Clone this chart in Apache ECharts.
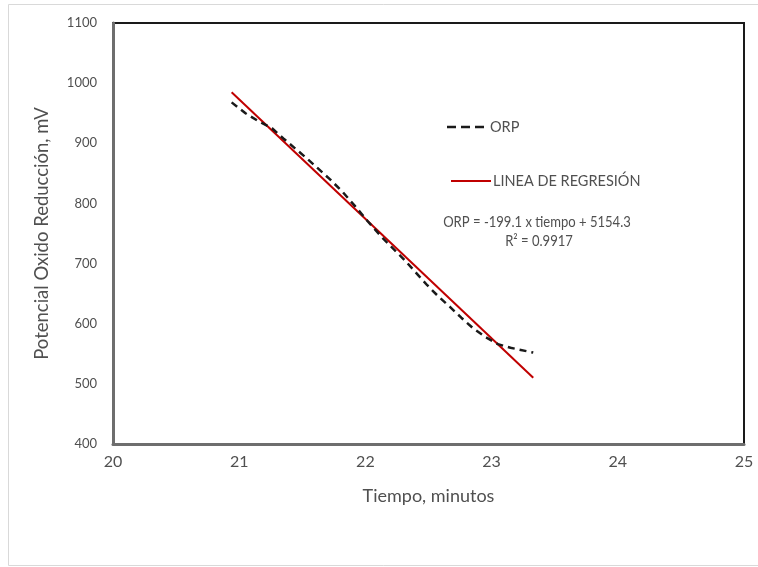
<!DOCTYPE html>
<html>
<head>
<meta charset="utf-8">
<script src="https://cdn.jsdelivr.net/npm/echarts@6/dist/echarts.min.js"></script>
<style>html,body{margin:0;padding:0;background:#fff;}#c{width:758px;height:567px;}</style>
</head>
<body>
<div id="c"></div>
<script>
// ORP readings (time in minutes, mV)
const orpTime = [20.94, 21.05, 21.15, 21.26, 21.35, 21.44, 21.53, 21.62, 21.72, 21.82, 21.92, 22.02, 22.13, 22.22, 22.31, 22.40, 22.49, 22.58, 22.67, 22.76, 22.85, 22.95, 23.05, 23.15, 23.33];
const orpValue = [968, 950, 937, 925, 908, 892, 876, 859, 840, 819, 795, 770, 744, 725, 706, 685, 664, 645, 628, 610, 593, 578, 566, 560, 552];
// Regression line endpoints
const regTime = [20.94, 23.33];
const regValue = [985, 510];
const xTicks = [20, 21, 22, 23, 24, 25];
const yTicks = [400, 500, 600, 700, 800, 900, 1000, 1100];
const seriesNames = ['ORP', 'LINEA DE REGRESIÓN'];
const equationText = ['ORP = -199.1 x tiempo + 5154.3', 'R² = 0.9917'];

const FONT = 'Lato, "Noto Sans", sans-serif';
const TXT = '#505050';
const SQ = 0.9; // horizontal squeeze for the equation text

const chart = echarts.init(document.getElementById('c'));
chart.setOption({
  animation: false,
  backgroundColor: '#fff',
  grid: { left: 113, right: 14, top: 23, bottom: 123, show: true, borderColor: '#1a1a1a', borderWidth: 2, backgroundColor: 'transparent' },
  xAxis: {
    type: 'value', min: xTicks[0], max: xTicks[xTicks.length - 1], interval: 1,
    name: 'Tiempo, minutos', nameLocation: 'middle', nameGap: 43,
    nameTextStyle: { fontFamily: FONT, fontSize: 18, color: TXT },
    axisLine: { show: true, lineStyle: { color: '#6e6e6e', width: 3 } },
    axisTick: { show: false }, splitLine: { show: false },
    axisLabel: { fontFamily: FONT, fontSize: 16, color: TXT, margin: 10, formatter: v => String(v) }
  },
  yAxis: {
    type: 'value', min: yTicks[0], max: yTicks[yTicks.length - 1], interval: 100,
    name: 'Potencial Oxido Reducción, mV', nameLocation: 'middle', nameGap: 61, nameRotate: 90,
    nameTextStyle: { fontFamily: FONT, fontSize: 18.5, color: TXT },
    axisLine: { show: true, lineStyle: { color: '#6e6e6e', width: 3 } },
    axisTick: { show: false }, splitLine: { show: false },
    axisLabel: { fontFamily: FONT, fontSize: 13, color: TXT, margin: 16, formatter: v => String(v) }
  },
  legend: { show: false, data: seriesNames },
  graphic: [
    { type: 'rect', silent: true, z: -10, shape: { x: 8.5, y: 4.5, width: 770, height: 561 }, style: { fill: 'none', stroke: '#d9d9d9', lineWidth: 1 } },
    // legend (drawn by hand to reproduce the line-only keys)
    { type: 'line', silent: true, shape: { x1: 447, y1: 127, x2: 488, y2: 127 }, style: { stroke: '#1a1a1a', lineWidth: 2.5, lineDash: [9, 5] } },
    { type: 'text', silent: true, x: 490, y: 127, style: { text: seriesNames[0], fontFamily: FONT, fontSize: 14.5, fill: TXT, align: 'left', verticalAlign: 'middle' } },
    { type: 'line', silent: true, shape: { x1: 451, y1: 181, x2: 491, y2: 181 }, style: { stroke: '#c00000', lineWidth: 2 } },
    { type: 'text', silent: true, x: 493, y: 181, style: { text: seriesNames[1], fontFamily: FONT, fontSize: 14.5, fill: TXT, align: 'left', verticalAlign: 'middle' } },
    // regression equation
    { type: 'text', silent: true, x: 537, y: 222, scaleX: SQ, style: { text: equationText[0], fontFamily: FONT, fontSize: 14.5, fill: TXT, align: 'center', verticalAlign: 'middle' } },
    { type: 'text', silent: true, x: 539, y: 241, scaleX: SQ, style: { text: equationText[1], fontFamily: FONT, fontSize: 14.5, fill: TXT, align: 'center', verticalAlign: 'middle' } }
  ],
  series: [
    {
      name: seriesNames[0], type: 'line', z: 4, showSymbol: false, symbol: 'none',
      data: orpTime.map((t, i) => [t, orpValue[i]]),
      lineStyle: { color: '#1a1a1a', width: 2.5, type: [7, 5] },
      itemStyle: { color: '#1a1a1a' }
    },
    {
      name: seriesNames[1], type: 'line', z: 3, showSymbol: false, symbol: 'none',
      data: regTime.map((t, i) => [t, regValue[i]]),
      lineStyle: { color: '#c00000', width: 2 },
      itemStyle: { color: '#c00000' }
    }
  ]
});
</script>
</body>
</html>
